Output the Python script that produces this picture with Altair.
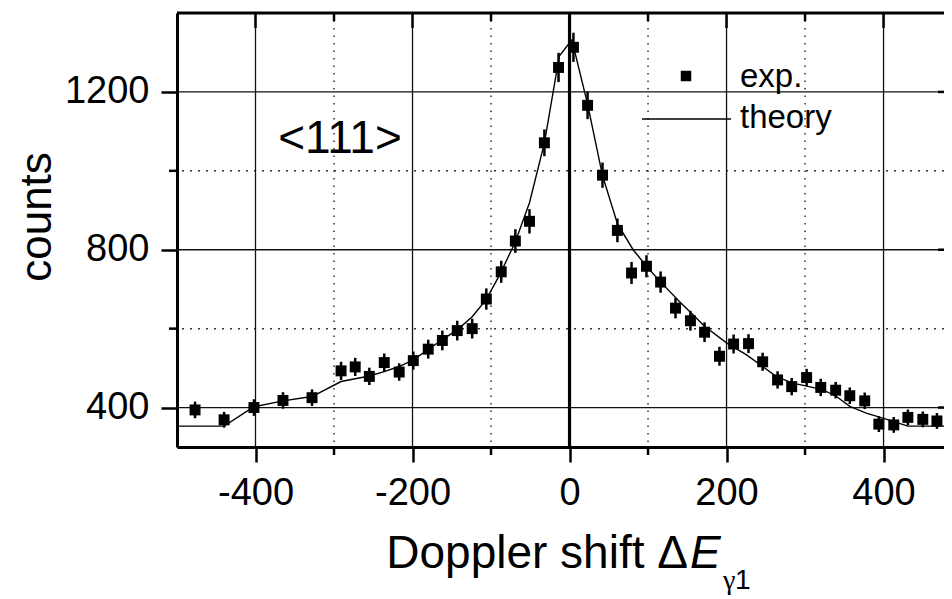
import altair as alt
import pandas as pd

# experimental points (Doppler shift, counts, error)
exp_x = [-477, -440, -402, -365, -328, -291, -273, -255, -236, -217,
         -199, -180, -162, -143, -124, -106, -87, -69, -51, -32,
         -14, 5, 23, 42, 61, 79, 98, 116, 135, 154,
         172, 191, 209, 228, 246, 265, 283, 302, 320, 339,
         357, 376, 394, 413, 431, 450, 468, 487]
exp_y = [394, 369, 400, 418, 425, 493, 503, 479, 514, 490,
         519, 548, 570, 595, 600, 675, 744, 822, 872, 1071,
         1262, 1313, 1166, 989, 849, 741, 758, 718, 652, 620,
         591, 530, 561, 562, 516, 470, 453, 476, 451, 444,
         430, 417, 358, 356, 375, 370, 366, 358]
exp_err = [21, 20, 21, 21, 21, 23, 23, 22, 23, 22,
           23, 24, 25, 25, 25, 27, 28, 30, 31, 34,
           37, 37, 35, 32, 30, 28, 28, 27, 26, 25,
           25, 24, 24, 24, 23, 22, 22, 22, 22, 21,
           21, 21, 20, 20, 20, 20, 20, 20]

# theory curve
theory_x = [-500, -440, -402, -365, -328, -291, -255, -236, -217, -199,
            -180, -162, -143, -124, -106, -88, -69, -51, -32, -13,
            3, 23, 42, 61, 81, 98, 117, 140, 172, 200,
            225, 246, 263, 284, 301, 323, 340, 357, 378, 399,
            431, 490]
theory_y = [353, 353, 402, 417, 428, 466, 480, 491, 504, 521,
            547, 572, 597, 630, 674, 740, 820, 919, 1071, 1291,
            1332, 1169, 988, 866, 800, 758, 716, 669, 606, 564,
            534, 504, 479, 462, 455, 445, 428, 403, 386, 373,
            353, 353]

x_major = [-400, -200, 0, 200, 400]
x_minor = [-300, -100, 100, 300]
y_major = [400, 800, 1200]
y_minor = [600, 1000]

W, H = 767, 434
FONT = "Liberation Sans"

xs = alt.Scale(domain=[-500, 477], nice=False, zero=False)
ys = alt.Scale(domain=[300, 1400], nice=False, zero=False)

x_axis = alt.Axis(values=x_major, title=None, grid=False, tickSize=15, tickWidth=2.5,
                  tickColor="black", domainColor="black", domainWidth=3,
                  labelFontSize=38, labelFont=FONT, labelColor="black", labelPadding=12,
                  labelExpr="'' + datum.value", labelFlush=False, labelOverlap=False)
y_axis = alt.Axis(values=y_major, title=None, grid=False, tickSize=16, tickWidth=2.5,
                  tickColor="black", domainColor="black", domainWidth=3,
                  labelFontSize=38, labelFont=FONT, labelColor="black", labelPadding=12,
                  labelExpr="'' + datum.value", labelFlush=False, labelOverlap=False)


def X(field):
    return alt.X(field, type="quantitative", scale=xs, axis=x_axis)


def Y(field):
    return alt.Y(field, type="quantitative", scale=ys, axis=y_axis)


exp_df = pd.DataFrame({"x": exp_x, "y": exp_y,
                       "lo": [a - b for a, b in zip(exp_y, exp_err)],
                       "hi": [a + b for a, b in zip(exp_y, exp_err)]})
th_df = pd.DataFrame({"x": theory_x, "y": theory_y})
xmaj_df = pd.DataFrame({"v": [v for v in x_major if v != 0]})
zero_df = pd.DataFrame({"v": [0]})
xmin_df = pd.DataFrame({"v": x_minor})
ymaj_df = pd.DataFrame({"v": y_major})
ymin_df = pd.DataFrame({"v": y_minor})
one = pd.DataFrame({"a": [0]})

grid_x_minor = alt.Chart(xmin_df).mark_rule(color="#333", strokeWidth=1.5, strokeDash=[1.5, 6]).encode(x=X("v"))
grid_y_minor = alt.Chart(ymin_df).mark_rule(color="#333", strokeWidth=1.5, strokeDash=[2, 6]).encode(y=Y("v"))
grid_x_major = alt.Chart(xmaj_df).mark_rule(color="#111", strokeWidth=1.3).encode(x=X("v"))
grid_y_major = alt.Chart(ymaj_df).mark_rule(color="#111", strokeWidth=1.3).encode(y=Y("v"))
zero_line = alt.Chart(zero_df).mark_rule(color="black", strokeWidth=3.2).encode(x=X("v"))

# frame & extra ticks
top_border = alt.Chart(one).mark_rule(color="black", strokeWidth=3).encode(
    x=alt.value(0), x2=alt.value(W), y=alt.value(0))
top_major = alt.Chart(pd.DataFrame({"v": x_major})).mark_rule(color="black", strokeWidth=2.5).encode(
    x=X("v"), y=alt.value(0), y2=alt.value(15))
top_minor = alt.Chart(xmin_df).mark_rule(color="black", strokeWidth=2.5).encode(
    x=X("v"), y=alt.value(0), y2=alt.value(8))
bottom_minor = alt.Chart(xmin_df).mark_rule(color="black", strokeWidth=2.5).encode(
    x=X("v"), y=alt.value(H), y2=alt.value(H + 8))
left_minor = alt.Chart(ymin_df).mark_rule(color="black", strokeWidth=2.5).encode(
    y=Y("v"), x=alt.value(-8), x2=alt.value(0))
right_major = alt.Chart(ymaj_df).mark_rule(color="black", strokeWidth=2.5).encode(
    y=Y("v"), x=alt.value(W - 6), x2=alt.value(W))

theory = alt.Chart(th_df).mark_line(color="black", strokeWidth=1.4, clip=True).encode(
    x=X("x"), y=Y("y"))
errbars = alt.Chart(exp_df).mark_rule(color="black", strokeWidth=2.5, clip=True).encode(
    x=X("x"), y=Y("lo"), y2="hi")
points = alt.Chart(exp_df).mark_point(shape="square", filled=True, size=120, color="black",
                                      opacity=1, clip=True).encode(x=X("x"), y=Y("y"))

# annotations
label_111 = alt.Chart(one).mark_text(text="<111>", font=FONT, fontSize=46, align="center",
                                     baseline="alphabetic", color="black").encode(
    x=alt.value(163), y=alt.value(140))
leg_sym = alt.Chart(one).mark_point(shape="square", filled=True, size=110, color="black", opacity=1).encode(
    x=alt.value(509), y=alt.value(63))
leg_line = alt.Chart(one).mark_rule(color="black", strokeWidth=1.4).encode(
    x=alt.value(465), x2=alt.value(554), y=alt.value(106))
leg_exp = alt.Chart(one).mark_text(text="exp.", font=FONT, fontSize=33, align="left",
                                   baseline="alphabetic", color="black").encode(
    x=alt.value(563), y=alt.value(74))
leg_th = alt.Chart(one).mark_text(text="theory", font=FONT, fontSize=33, align="left",
                                  baseline="alphabetic", color="black").encode(
    x=alt.value(563), y=alt.value(115))

y_title = alt.Chart(one).mark_text(text="counts", font=FONT, fontSize=44, align="center",
                                   baseline="alphabetic", angle=270, color="black").encode(
    x=alt.value(-126), y=alt.value(204))
x_title = alt.Chart(one).mark_text(text="Doppler shift Δ", font=FONT, fontSize=46, align="right",
                                   baseline="alphabetic", color="black").encode(
    x=alt.value(511), y=alt.value(555))
x_title_e = alt.Chart(one).mark_text(text="E", font=FONT, fontSize=46, fontStyle="italic", align="left",
                                     baseline="alphabetic", color="black").encode(
    x=alt.value(513), y=alt.value(555))
x_title_g = alt.Chart(one).mark_text(text="γ", font="Liberation Serif", fontSize=28, align="left",
                                     baseline="alphabetic", color="black").encode(
    x=alt.value(546), y=alt.value(576))
x_title_1 = alt.Chart(one).mark_text(text="1", font=FONT, fontSize=28, align="left",
                                     baseline="alphabetic", color="black").encode(
    x=alt.value(558), y=alt.value(576))

chart = alt.layer(
    grid_x_minor, grid_y_minor, grid_x_major, grid_y_major, zero_line,
    theory, errbars, points,
    top_border, top_major, top_minor, bottom_minor, left_minor, right_major,
    label_111, leg_sym, leg_line, leg_exp, leg_th,
    y_title, x_title, x_title_e, x_title_g, x_title_1,
).properties(
    width=W, height=H,
    autosize=alt.AutoSizeParams(type="none"),
    padding={"left": 169, "top": 5, "right": 0, "bottom": 152},
).configure_view(stroke=None).configure(background="white")

chart.save("out.html", embed_options={"renderer": "svg", "actions": False})
